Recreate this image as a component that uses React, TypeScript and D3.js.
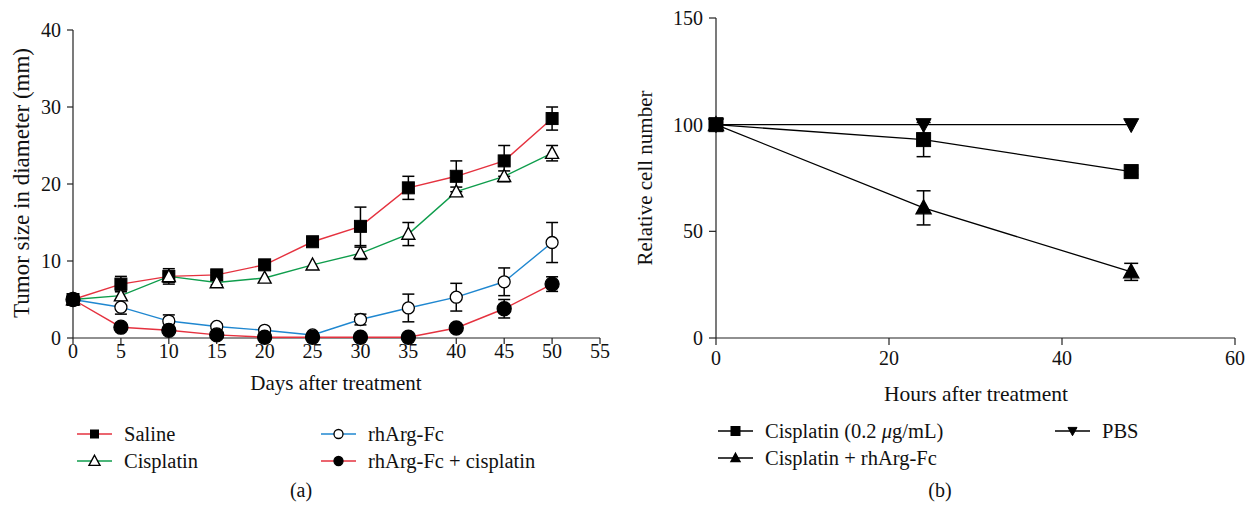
import React from "react";
import * as d3 from "d3";

const days = [0, 5, 10, 15, 20, 25, 30, 35, 40, 45, 50];
const salineMean = [5, 7, 8, 8.2, 9.5, 12.5, 14.5, 19.5, 21, 23, 28.5];
const salineErr = [0, 1, 1, 0.3, 0, 0, 2.5, 1.5, 2, 2, 1.5];
const cisMean = [5, 5.5, 8, 7.2, 7.8, 9.5, 11, 13.5, 19, 21, 24];
const cisErr = [0, 0.6, 0.3, 0.3, 0, 0, 0.8, 1.5, 0.6, 0.7, 1];
const rhMean = [5, 4, 2.2, 1.5, 1.0, 0.4, 2.4, 3.9, 5.3, 7.3, 12.4];
const rhErr = [0, 0.9, 0.8, 0.3, 0.2, 0, 0.7, 1.8, 1.8, 1.8, 2.6];
const comboMean = [5, 1.4, 1.0, 0.4, 0.1, 0.1, 0.1, 0.1, 1.3, 3.8, 7];
const comboErr = [0, 0, 0, 0, 0, 0, 0, 0, 0, 1.2, 0.95];
const leftXTicks = [0, 5, 10, 15, 20, 25, 30, 35, 40, 45, 50, 55];
const leftYTicks = [0, 10, 20, 30, 40];

const hours = [0, 24, 48];
const cisCellMean = [100, 93, 78];
const cisCellErr = [0, 8, 1.5];
const comboCellMean = [100, 61, 31];
const comboCellErr = [0, 8, 4];
const pbsMean = [100, 100, 100];
const pbsErr = [0, 0, 0];
const rightXTicks = [0, 20, 40, 60];
const rightYTicks = [0, 50, 100, 150];

const RED = "#e5323f";
const GREEN = "#0f9d4c";
const BLUE = "#1f87d0";
const FONT = "'Liberation Serif', 'DejaVu Serif', serif";

type Shape = "square" | "triUp" | "triDown" | "circle";

function Marker({ shape, x, y, size, fill }: { shape: Shape; x: number; y: number; size: number; fill: string }) {
  const s = size / 2;
  const stroke = "#000";
  if (shape === "square") return <rect x={x - s} y={y - s} width={size} height={size} fill={fill} stroke={stroke} strokeWidth={1} />;
  if (shape === "circle") return <circle cx={x} cy={y} r={s} fill={fill} stroke={stroke} strokeWidth={1.3} />;
  if (shape === "triUp")
    return <path d={`M${x},${y - s * 1.05}L${x + s},${y + s * 0.8}L${x - s},${y + s * 0.8}Z`} fill={fill} stroke={stroke} strokeWidth={1.4} />;
  return <path d={`M${x},${y + s * 1.05}L${x + s},${y - s * 0.8}L${x - s},${y - s * 0.8}Z`} fill={fill} stroke={stroke} strokeWidth={1} />;
}

export default function App() {
  const W = 1248, H = 509;
  const lx = d3.scaleLinear().domain([0, 55]).range([73, 600]);
  const ly = d3.scaleLinear().domain([0, 40]).range([338, 30]);
  const rx = d3.scaleLinear().domain([0, 60]).range([716, 1235]);
  const ry = d3.scaleLinear().domain([0, 150]).range([338, 18]);

  const leftSeries = [
    { name: "Saline", mean: salineMean, err: salineErr, color: RED, shape: "square" as Shape, fill: "#000", size: 12 },
    { name: "Cisplatin", mean: cisMean, err: cisErr, color: GREEN, shape: "triUp" as Shape, fill: "#fff", size: 13 },
    { name: "rhArg-Fc", mean: rhMean, err: rhErr, color: BLUE, shape: "circle" as Shape, fill: "#fff", size: 12 },
    { name: "rhArg-Fc + cisplatin", mean: comboMean, err: comboErr, color: RED, shape: "circle" as Shape, fill: "#000", size: 14 },
  ];
  const rightSeries = [
    { name: "Cisplatin (0.2 μg/mL)", mean: cisCellMean, err: cisCellErr, shape: "square" as Shape, size: 14 },
    { name: "Cisplatin + rhArg-Fc", mean: comboCellMean, err: comboCellErr, shape: "triUp" as Shape, size: 15 },
    { name: "PBS", mean: pbsMean, err: pbsErr, shape: "triDown" as Shape, size: 15 },
  ];

  const lineL = (m: number[]) => d3.line<number>().x((_, i) => lx(days[i])).y((v) => ly(v))(m) || "";
  const lineR = (m: number[]) => d3.line<number>().x((_, i) => rx(hours[i])).y((v) => ry(v))(m) || "";

  const errBars = (xs: number[], m: number[], e: number[], sx: any, sy: any, key: string, cap = 6) =>
    m.map((v, i) =>
      e[i] > 0 ? (
        <g key={key + i} stroke="#000" strokeWidth={1.5}>
          <line x1={sx(xs[i])} x2={sx(xs[i])} y1={sy(v + e[i])} y2={sy(v - e[i])} />
          <line x1={sx(xs[i]) - cap} x2={sx(xs[i]) + cap} y1={sy(v + e[i])} y2={sy(v + e[i])} />
          <line x1={sx(xs[i]) - cap} x2={sx(xs[i]) + cap} y1={sy(v - e[i])} y2={sy(v - e[i])} />
        </g>
      ) : null
    );

  const tickFont = { fontFamily: FONT, fontSize: 20, fill: "#111" } as const;
  const labelFont = { fontFamily: FONT, fontSize: 21, fill: "#111" } as const;
  const legendFont = { fontFamily: FONT, fontSize: 20.5, fill: "#111" } as const;

  const leftLegend = [
    { s: leftSeries[0], x: 77, y: 434 },
    { s: leftSeries[1], x: 77, y: 461 },
    { s: leftSeries[2], x: 321, y: 434 },
    { s: leftSeries[3], x: 321, y: 461 },
  ];
  const rightLegend = [
    { s: rightSeries[0], x: 718, y: 431 },
    { s: rightSeries[1], x: 718, y: 458 },
    { s: rightSeries[2], x: 1055, y: 431 },
  ];

  return (
    <svg width={W} height={H} style={{ position: "absolute", left: 0, top: 0, background: "#fff" }}>
      <g stroke="#222" strokeWidth={1.2}>
        <line x1={lx(0)} x2={lx(0)} y1={ly(0)} y2={ly(40)} />
        <line x1={lx(0)} x2={lx(55)} y1={ly(0)} y2={ly(0)} />
        {leftYTicks.map((t) => (
          <line key={"ly" + t} x1={lx(0) - 6} x2={lx(0)} y1={ly(t)} y2={ly(t)} />
        ))}
        {leftXTicks.map((t) => (
          <line key={"lx" + t} x1={lx(t)} x2={lx(t)} y1={ly(0)} y2={ly(0) + 6} />
        ))}
      </g>
      {leftYTicks.map((t) => (
        <text key={"lyt" + t} x={lx(0) - 12} y={ly(t)} dy="0.35em" textAnchor="end" {...tickFont}>
          {t}
        </text>
      ))}
      {leftXTicks.map((t) => (
        <text key={"lxt" + t} x={lx(t)} y={ly(0) + 20} textAnchor="middle" {...tickFont}>
          {t}
        </text>
      ))}
      <text x={336} y={390} textAnchor="middle" {...labelFont}>Days after treatment</text>
      <text transform={`translate(29,183) rotate(-90)`} textAnchor="middle" {...labelFont} fontSize={23}>
        Tumor size in diameter (mm)
      </text>

      {leftSeries.map((s) => (
        <path key={"ln" + s.name} d={lineL(s.mean)} fill="none" stroke={s.color} strokeWidth={1.4} />
      ))}
      {leftSeries.map((s) => (
        <g key={"eb" + s.name}>{errBars(days, s.mean, s.err, lx, ly, s.name)}</g>
      ))}
      {leftSeries.map((s) => (
        <g key={"mk" + s.name}>
          {s.mean.map((v, i) => (
            <Marker key={i} shape={s.shape} x={lx(days[i])} y={ly(v)} size={s.size} fill={s.fill} />
          ))}
        </g>
      ))}

      {leftLegend.map(({ s, x, y }) => (
        <g key={"lg" + s.name}>
          <line x1={x} x2={x + 35} y1={y} y2={y} stroke={s.color} strokeWidth={1.4} />
          <Marker shape={s.shape} x={x + 17.5} y={y} size={s.shape === "circle" ? 9 : s.shape === "triUp" ? 11 : 8} fill={s.fill} />
          <text x={x + 47} y={y} dy="0.33em" {...legendFont}>{s.name}</text>
        </g>
      ))}
      <text x={301} y={497} textAnchor="middle" {...tickFont}>(a)</text>

      <g stroke="#222" strokeWidth={1.2}>
        <line x1={rx(0)} x2={rx(0)} y1={ry(0)} y2={ry(150)} />
        <line x1={rx(0)} x2={rx(60)} y1={ry(0)} y2={ry(0)} />
        {rightYTicks.map((t) => (
          <line key={"ry" + t} x1={rx(0) - 7} x2={rx(0)} y1={ry(t)} y2={ry(t)} />
        ))}
        {rightXTicks.map((t) => (
          <line key={"rx" + t} x1={rx(t)} x2={rx(t)} y1={ry(0)} y2={ry(0) + 7} />
        ))}
      </g>
      {rightYTicks.map((t) => (
        <text key={"ryt" + t} x={rx(0) - 13} y={ry(t)} dy="0.35em" textAnchor="end" {...tickFont}>
          {t}
        </text>
      ))}
      {rightXTicks.map((t) => (
        <text key={"rxt" + t} x={rx(t)} y={ry(0) + 27} textAnchor="middle" {...tickFont}>
          {t}
        </text>
      ))}
      <text x={976} y={401} textAnchor="middle" {...labelFont} fontSize={21.5}>Hours after treatment</text>
      <text transform={`translate(652,178) rotate(-90)`} textAnchor="middle" {...labelFont}>
        Relative cell number
      </text>

      {rightSeries.map((s) => (
        <path key={"rln" + s.name} d={lineR(s.mean)} fill="none" stroke="#000" strokeWidth={1.3} />
      ))}
      {rightSeries.map((s) => (
        <g key={"reb" + s.name}>{errBars(hours, s.mean, s.err, rx, ry, "r" + s.name, 7)}</g>
      ))}
      {rightSeries.map((s) => (
        <g key={"rmk" + s.name}>
          {s.mean.map((v, i) => (
            <Marker key={i} shape={s.shape} x={rx(hours[i])} y={ry(v)} size={s.size} fill="#000" />
          ))}
        </g>
      ))}

      {rightLegend.map(({ s, x, y }) => (
        <g key={"rlg" + s.name}>
          <line x1={x} x2={x + 35} y1={y} y2={y} stroke="#000" strokeWidth={1.4} />
          <Marker shape={s.shape} x={x + 17.5} y={y} size={9} fill="#000" />
          <text x={x + 47} y={y} dy="0.33em" {...legendFont}>
            {s.name === "Cisplatin (0.2 μg/mL)" ? (
              <>
                Cisplatin (0.2 <tspan fontStyle="italic">μ</tspan>g/mL)
              </>
            ) : (
              s.name
            )}
          </text>
        </g>
      ))}
      <text x={940} y={497} textAnchor="middle" {...tickFont}>(b)</text>
    </svg>
  );
}
